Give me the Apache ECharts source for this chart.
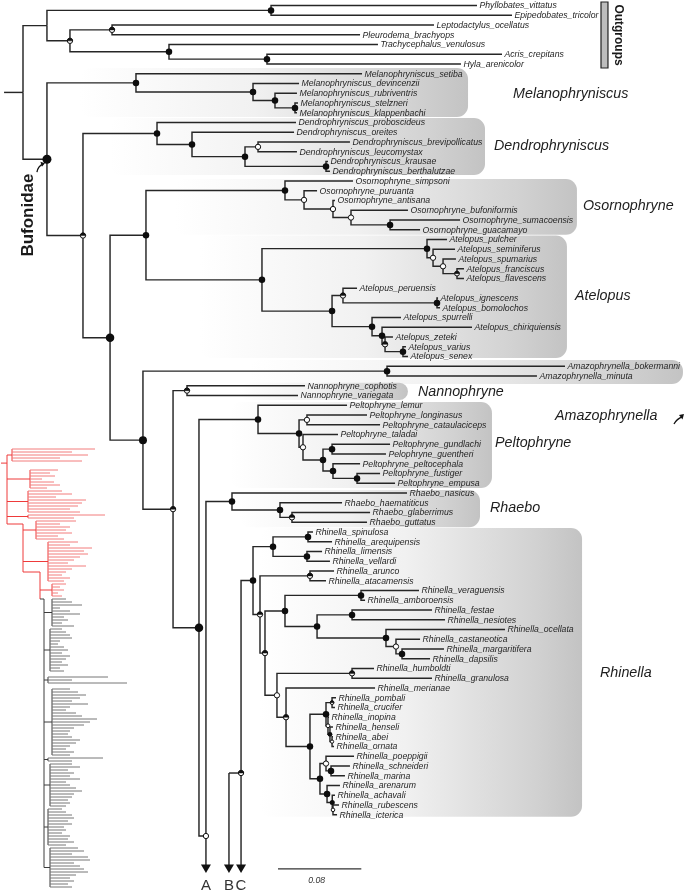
<!DOCTYPE html>
<html><head><meta charset="utf-8">
<script src="https://cdn.jsdelivr.net/npm/echarts/dist/echarts.min.js"></script>
<style>html,body{margin:0;padding:0;background:#fff}#c{width:685px;height:891px}</style>
</head><body><div id="c"></div>
<script>
// ---------------- DATA ----------------
const taxa = ['Phyllobates_vittatus','Epipedobates_tricolor','Leptodactylus_ocellatus','Pleurodema_brachyops','Trachycephalus_venulosus','Acris_crepitans','Hyla_arenicolor',
'Melanophryniscus_setiba','Melanophryniscus_devincenzii','Melanophryniscus_rubriventris','Melanophryniscus_stelzneri','Melanophryniscus_klappenbachi',
'Dendrophryniscus_proboscideus','Dendrophryniscus_oreites','Dendrophryniscus_brevipollicatus','Dendrophryniscus_leucomystax','Dendrophryniscus_krausae','Dendrophryniscus_berthalutzae',
'Osornophryne_simpsoni','Osornophryne_puruanta','Osornophryne_antisana','Osornophryne_bufoniformis','Osornophryne_sumacoensis','Osornophryne_guacamayo',
'Atelopus_pulcher','Atelopus_seminiferus','Atelopus_spumarius','Atelopus_franciscus','Atelopus_flavescens','Atelopus_peruensis','Atelopus_ignescens','Atelopus_bomolochos','Atelopus_spurrelli','Atelopus_chiriquiensis','Atelopus_zeteki','Atelopus_varius','Atelopus_senex',
'Amazophrynella_bokermanni','Amazophrynella_minuta','Nannophryne_cophotis','Nannophryne_variegata',
'Peltophryne_lemur','Peltophryne_longinasus','Peltophryne_cataulaciceps','Peltophryne_taladai','Peltophryne_gundlachi','Pelophryne_guentheri','Peltophryne_peltocephala','Peltophryne_fustiger','Peltophryne_empusa',
'Rhaebo_nasicus','Rhaebo_haematiticus','Rhaebo_glaberrimus','Rhaebo_guttatus',
'Rhinella_spinulosa','Rhinella_arequipensis','Rhinella_limensis','Rhinella_vellardi','Rhinella_arunco','Rhinella_atacamensis','Rhinella_veraguensis','Rhinella_amboroensis','Rhinella_festae','Rhinella_nesiotes','Rhinella_ocellata','Rhinella_castaneotica','Rhinella_margaritifera','Rhinella_dapsilis','Rhinella_humboldti','Rhinella_granulosa','Rhinella_merianae','Rhinella_pombali','Rhinella_crucifer','Rhinella_inopina','Rhinella_henseli','Rhinella_abei','Rhinella_ornata','Rhinella_poeppigii','Rhinella_schneideri','Rhinella_marina','Rhinella_arenarum','Rhinella_achavali','Rhinella_rubescens','Rhinella_icterica'];

// distance from the root (substitutions/site)
const tipDepth = [0.4360,0.4696,0.3947,0.3237,0.3409,0.4600,0.4206,
0.3256,0.2651,0.2631,0.2641,0.2631,
0.2622,0.2603,0.3140,0.2631,0.2929,0.2948,
0.3169,0.2824,0.2996,0.3697,0.4197,0.3813,
0.4072,0.4149,0.4158,0.4235,0.4235,0.3208,0.3986,0.4005,0.3630,0.4312,0.3553,0.3678,0.3697,
0.5205,0.4936,0.2708,0.2641,
0.3112,0.3304,0.3429,0.3025,0.3525,0.3486,0.3237,0.3429,0.3573,
0.3688,0.3064,0.3333,0.3304,
0.2785,0.2968,0.2872,0.2948,0.2987,0.2910,0.3803,0.3285,0.3928,0.4053,0.4629,0.3813,0.4043,0.3909,0.3371,0.3928,0.3381,0.3006,0.2996,0.2939,0.2977,0.2977,0.2987,0.3179,0.3140,0.3092,0.3044,0.2996,0.3035,0.3016];

const nodeIds = ['og1','og2','og3','og4','og5','og',
'me1','me2','me3','me',
'de1','de2','de3','de4','de',
'os1','os2','os3','os4','os',
'at1','at2','at3','at4','at5','at6','at7','at8','at9','at10','at11','at','osat',
'am','na',
'pe1','pe2','pe3','pe4','pe5','pe6','pe7','pe',
'rb1','rb2','rb',
'rh1','rh2','rh3','rh4','rh5','rh6','rh7','rh8','rh9','rh10','rh11','rh12','rh13','rh14','rh15','rh16','rh17','rh18','rh19','rh20','rh21','rh22','rh23','rh24','rh25','rh26','rh27','rh28','rh',
'X206','X199','X173','X143','X110','X83','B','root','CN'];

const nodeKids = [[0,1],[2,3],[5,6],[4,'og3'],['og2','og4'],['og1','og5'],
[10,11],[9,'me1'],[8,'me2'],[7,'me3'],
[14,15],[16,17],['de1','de2'],[13,'de3'],[12,'de4'],
[22,23],[21,'os1'],[20,'os2'],[19,'os3'],[18,'os4'],
[27,28],[26,'at1'],[25,'at2'],[24,'at3'],[30,31],[29,'at5'],[35,36],[34,'at7'],[33,'at8'],[32,'at9'],['at6','at10'],['at4','at11'],['os','at'],
[37,38],[39,40],
[42,43],[45,46],[48,49],[47,'pe3'],['pe2','pe4'],[44,'pe5'],['pe1','pe6'],[41,'pe7'],
[52,53],[51,'rb1'],[50,'rb2'],
[54,55],[56,57],['rh1','rh2'],[58,59],[60,61],[62,63],[66,67],[65,'rh7'],[64,'rh8'],['rh6','rh9'],['rh5','rh10'],[68,69],[71,72],[75,76],[74,'rh14'],[73,'rh15'],['rh13','rh16'],[78,79],[77,'rh18'],[82,83],[81,'rh20'],[80,'rh21'],['rh19','rh22'],['rh17','rh23'],[70,'rh24'],['rh12','rh25'],['rh11','rh26'],['rh4','rh27'],['rh3','rh28'],
['rb'],['pe','X206'],['na','X199'],['am','X173'],['osat','X143'],['de','X110'],['me','X83'],['og','B'],['rh']];

const nodeDepth = [0.2382,0.0855,0.2343,0.1402,0.0451,0.0230,
0.2612,0.2420,0.2209,0.1085,
0.2257,0.2910,0.2132,0.1623,0.1287,
0.3525,0.3150,0.2977,0.2699,0.2516,
0.4168,0.4034,0.3938,0.3880,0.3976,0.3073,0.3649,0.3477,0.3448,0.3352,0.2968,0.2295,0.1181,
0.3496,0.1575,
0.2727,0.2968,0.3208,0.2977,0.2881,0.2689,0.2651,0.2257,
0.2583,0.2468,0.2007,
0.2737,0.2727,0.2401,0.2756,0.3246,0.3160,0.3640,0.3582,0.3486,0.2824,0.2516,0.3160,0.2968,0.2968,0.2948,0.2929,0.2910,0.2958,0.2910,0.2977,0.2970,0.2920,0.2852,0.2756,0.2526,0.2439,0.2324,0.2276,0.2209,
0.1757,0.1690,0.1441,0.1152,0.0836,0.0576,0.0230,0,0.2094];

// node support: F = filled, O = open, H = half, N = none
const nodeSupport = ['F','H','F','F','H','N',
'F','F','F','F',
'O','F','F','F','F',
'F','O','O','O','F',
'H','O','O','F','F','H','F','H','F','F','F','F','F',
'F','H',
'O','F','F','F','F','O','F','F',
'H','F','F',
'F','F','F','H','F','F','F','O','F','F','F','H','H','O','F','O','F','F','O','O','F','F','F','F','H','O','H','H','F',
'O','F','H','F','F','H','F','N','H'];

// nodes whose lineage continues off the figure (rows in tip units)
const cutNodeIds = ['X206','CN'];
const cutNodeRow = [85.18, 78.72];
const rootStubDepth = -0.0182;

// continuation arrows to panels A, B, C
const arrowLabels = ['A','B','C'];
const arrowDepth = [0.1757, 0.1978, 0.2094];
const arrowFromRow = [85.18, 78.72, 78.72];
const arrowTipRow = 88.97;

// named clades (shaded boxes)
const cladeNames = ['Melanophryniscus','Dendrophryniscus','Osornophryne','Atelopus','Amazophrynella','Nannophryne','Peltophryne','Rhaebo','Rhinella'];
const boxLeft  = [0.0547,0.0836,0.1460,0.1700,0.2180,0.2080,0.1990,0.2080,0.2276];
const boxRight = [0.4274,0.4437,0.5320,0.5224,0.6338,0.3697,0.4504,0.4389,0.5369];
const boxTop   = [6.41,11.54,17.80,23.60,36.36,38.70,40.67,49.70,53.60];
const boxBottom= [11.44,17.38,23.50,36.15,38.82,40.46,49.49,53.50,83.20];
const cladeLabelDepth = [0.4707,0.4523,0.5378,0.5301,0.5109,0.3793,0.4533,0.4485,0.5541];
const cladeLabelRow   = [9.08,14.41,20.56,29.80,42.10,39.64,44.87,51.54,68.46];

// scale bar
const scaleValue = 0.08;
const scaleStart = 0.2449;
const scaleRow = 88.56;

// thumbnail of the whole tree (lower left)
const thumbStem  = [12,30,28,28,36,48,52, 52,50,48,52,48,50,48,50];
const thumbRow0  = [3,10,17,25,27,34,48, 53,63,79,83,106,108,123,136];
const thumbRed   = [1,1,1,1,1,1,1, 0,0,0,0,0,0,0,0];
const thumbSpineOf = [0,0,0,0,1,1,2, 3,3,3,3,3,3,3,3];
const thumbTips = [
 [95,72,88,60,82],
 [58,50,55,42,54,60,47],
 [62,72,56,86,82,78,70,80],
 [105,74],
 [76,60,70,66,72,58,64],
 [78,70,92,84,88,80,74,68,86,72,66,62,70,64],
 [66,60,64,58,62],
 [66,72,82,60,70,80,64,68,62,74],
 [62,66,70,72,60,58,64,68,62,70,66,62,68,60,64],
 [108,72,127],
 [70,78,86,80,72,88,70,66,76,82,97,90,84,74,70,68,72,80,76,70,66,74,70],
 [103,72],
 [72,80,68,74,70,80,66,70,76,82,74,72,68,70,66],
 [62,66,72,74,68,72,64,66,62,70,68,74,66],
 [78,84,72,88,90,74,80,84,88,76,70,74,68,72]];
const thumbSpineX = [7,23,40,44];
const thumbSpineTop = [5,28,44,53];
const thumbSpineBottom = [28,44,53,142.5];
const thumbSpineRed = [1,1,1,0];
const thumbRootRow = 7.7, thumbRootX = 1;

// ---------------- LAYOUT (tree geometry from data) ----------------
const idx = {}; nodeIds.forEach((id,i)=>idx[id]=i);
const fixed = {}; cutNodeIds.forEach((id,i)=>fixed[id]=cutNodeRow[i]);
const rowCache = {};
function rowOf(k){
  if (typeof k === 'number') return k;
  if (rowCache[k] != null) return rowCache[k];
  let r;
  if (fixed[k] != null) r = fixed[k];
  else { const kids = nodeKids[idx[k]]; r = (rowOf(kids[0]) + rowOf(kids[kids.length-1]))/2; }
  rowCache[k] = r; return r;
}
function depthOf(k){ return typeof k === 'number' ? tipDepth[k] : nodeDepth[idx[k]]; }

const branchData = [];
nodeIds.forEach((id,i)=>{
  const pd = nodeDepth[i], pr = rowOf(id);
  nodeKids[i].forEach(k=>{ branchData.push([pd, pr, rowOf(k), depthOf(k)]); });
});
branchData.push([rootStubDepth, rowOf('root'), rowOf('root'), 0]);
arrowLabels.forEach((l,i)=>{ branchData.push([arrowDepth[i], arrowFromRow[i], arrowTipRow-0.82, arrowDepth[i]]); });
branchData.push([arrowDepth[1], arrowFromRow[1], arrowFromRow[1], arrowDepth[2]]);

const supCode = {F:1,O:2,H:3};
const bigNodes = {B:9, X110:8.5, X143:8, X199:8.5};
const tinyNodes = {rh13:4.8, rh14:4.3, rh15:4.8, rh16:4.8, rh20:4.6, rh21:5, at1:5.8, rh12:6.2};
const markerData = [];
nodeIds.forEach((id,i)=>{
  const s = nodeSupport[i]; if (s === 'N') return;
  const size = bigNodes[id] || tinyNodes[id] || (s === 'F' ? 6.5 : 6.3);
  markerData.push([nodeDepth[i], rowOf(id), supCode[s], size]);
});

const thumbSegs = [];
thumbSpineX.forEach((x,i)=>{
  const c = thumbSpineRed[i] ? 1 : 3;
  thumbSegs.push([x, thumbSpineTop[i], x, thumbSpineBottom[i], c]);
  if (i > 0) thumbSegs.push([thumbSpineX[i-1], thumbSpineTop[i], x, thumbSpineTop[i], c]);
});
thumbSegs.push([thumbRootX, thumbRootRow, thumbSpineX[0], thumbRootRow, 1]);
thumbStem.forEach((sx,i)=>{
  const tips = thumbTips[i], r0 = thumbRow0[i], r1 = r0 + tips.length - 1, mid = (r0+r1)/2;
  const cs = thumbRed[i] ? 1 : 3, ct = thumbRed[i] ? 2 : 4;
  thumbSegs.push([thumbSpineX[thumbSpineOf[i]], mid, sx, mid, cs]);
  thumbSegs.push([sx, r0, sx, r1, cs]);
  tips.forEach((t,j)=>thumbSegs.push([sx, r0+j, t, r0+j, ct]));
});
const thumbColors = {1:'#ee3a3a', 2:'#f27c7c', 3:'#3c3c3c', 4:'#777777'};

// ---------------- CHART ----------------
const FONT = '"Liberation Sans", Arial, Helvetica, sans-serif';
const INK = '#262626';
const chart = echarts.init(document.getElementById('c'));

function textEl(x, y, text, font, fill, align, rotation){
  const el = {type:'text', x:x, y:y, style:{text:text, font:font, fill:fill||INK,
    align:align||'left', verticalAlign:'middle', textAlign:align||'left', textVerticalAlign:'middle'}};
  if (rotation) el.rotation = rotation;
  return el;
}
function halfDisk(cx, cy, r){
  const pts = [];
  for (let k = 0; k <= 16; k++){ const a = Math.PI + Math.PI*k/16; pts.push([cx + r*Math.cos(a), cy + r*Math.sin(a)]); }
  return pts;
}

const option = {
  animation:false,
  backgroundColor:'#fff',
  grid:[{left:0, top:0, width:685, height:891},{left:0, top:440, width:130, height:451}],
  xAxis:[{gridIndex:0,type:'value',min:-0.02209,max:0.63577,show:false},
         {gridIndex:1,type:'value',min:0,max:130,show:false}],
  yAxis:[{gridIndex:0,type:'value',inverse:true,min:-0.5641,max:90.82,show:false},
         {gridIndex:1,type:'value',inverse:true,min:0,max:150.33,show:false}],
  series:[
    {type:'custom', xAxisIndex:0, yAxisIndex:0, z:1, silent:true, clip:false,
     data: cladeNames.map((n,i)=>[boxLeft[i], boxTop[i], boxRight[i], boxBottom[i]]),
     renderItem:(p, api)=>{
       const a = api.coord([api.value(0), api.value(1)]), b = api.coord([api.value(2), api.value(3)]);
       return {type:'rect', shape:{x:a[0], y:a[1], width:b[0]-a[0], height:b[1]-a[1], r:11},
         style:{fill:{type:'linear', x:0, y:0, x2:1, y2:0, colorStops:[
           {offset:0, color:'rgba(255,255,255,1)'},{offset:0.45, color:'#f1f1f1'},
           {offset:0.85, color:'#d2d2d2'},{offset:1, color:'#c3c3c3'}]}}};
     }},
    {type:'custom', xAxisIndex:0, yAxisIndex:0, z:6, silent:true, clip:false,
     data: cladeNames.map((n,i)=>[cladeLabelDepth[i], cladeLabelRow[i]]),
     renderItem:(p, api)=>{
       const a = api.coord([api.value(0), api.value(1)]);
       return textEl(a[0], a[1], cladeNames[p.dataIndex], 'italic 14.3px '+FONT, '#1e1e1e');
     }},
    {type:'custom', xAxisIndex:0, yAxisIndex:0, z:3, silent:true, clip:false,
     data: branchData,
     renderItem:(p, api)=>{
       const a = api.coord([api.value(0), api.value(1)]);
       const b = api.coord([api.value(0), api.value(2)]);
       const c = api.coord([api.value(3), api.value(2)]);
       return {type:'polyline', shape:{points:[a,b,c]}, style:{stroke:'#262626', lineWidth:1.45, fill:'none'}};
     }},
    {type:'custom', xAxisIndex:0, yAxisIndex:0, z:4, silent:true, clip:false,
     data: markerData,
     renderItem:(p, api)=>{
       const a = api.coord([api.value(0), api.value(1)]);
       const t = api.value(2), r = api.value(3)/2;
       if (t === 1) return {type:'circle', shape:{cx:a[0], cy:a[1], r:r}, style:{fill:'#0d0d0d'}};
       if (t === 2) return {type:'circle', shape:{cx:a[0], cy:a[1], r:r-0.5}, style:{fill:'#fff', stroke:'#111', lineWidth:1}};
       return {type:'group', children:[
         {type:'circle', shape:{cx:a[0], cy:a[1], r:r-0.5}, style:{fill:'#fff', stroke:'#111', lineWidth:1}},
         {type:'polygon', shape:{points:halfDisk(a[0], a[1], r-0.5)}, style:{fill:'#111', stroke:'#111', lineWidth:0.5}}]};
     }},
    {type:'custom', xAxisIndex:0, yAxisIndex:0, z:5, silent:true, clip:false,
     data: taxa.map((t,i)=>[tipDepth[i], i]),
     renderItem:(p, api)=>{
       const a = api.coord([api.value(0), api.value(1)]);
       return textEl(a[0]+2.5, a[1]+0.5, taxa[p.dataIndex], 'italic 8.7px '+FONT);
     }},
    {type:'custom', xAxisIndex:0, yAxisIndex:0, z:5, silent:true, clip:false,
     data: arrowLabels.map((l,i)=>[arrowDepth[i], arrowTipRow]),
     renderItem:(p, api)=>{
       const a = api.coord([api.value(0), api.value(1)]);
       return {type:'group', children:[
         {type:'polygon', shape:{points:[[a[0]-5, a[1]-8.5], [a[0]+5, a[1]-8.5], [a[0], a[1]]]}, style:{fill:'#111'}},
         textEl(a[0], a[1]+13, arrowLabels[p.dataIndex], '15px '+FONT, '#333', 'center')]};
     }},
    {type:'custom', xAxisIndex:0, yAxisIndex:0, z:5, silent:true, clip:false,
     data:[[scaleStart, scaleRow, scaleStart+scaleValue]],
     renderItem:(p, api)=>{
       const a = api.coord([api.value(0), api.value(1)]), b = api.coord([api.value(2), api.value(1)]);
       return {type:'group', children:[
         {type:'line', shape:{x1:a[0], y1:a[1], x2:b[0], y2:b[1]}, style:{stroke:'#333', lineWidth:1.2}},
         textEl((a[0]+b[0])/2-3, a[1]+12, String(scaleValue), 'italic 8.7px '+FONT, '#333', 'center')]};
     }},
    {type:'custom', xAxisIndex:0, yAxisIndex:0, z:6, silent:true, clip:false,
     data:[[depthOf('B'), rowOf('B')]],
     renderItem:(p, api)=>{
       const n = api.coord([api.value(0), api.value(1)]);
       const lab = api.coord([0.0048, 21.49]);
       const am = api.coord([cladeLabelDepth[4], cladeLabelRow[4]]);
       const og0 = api.coord([0.5551, -0.36]), og1 = api.coord([0.5618, 6.41]);
       const ogl = api.coord([0.5714, 3.03]);
       return {type:'group', children:[
         textEl(lab[0], lab[1], 'Bufonidae', 'bold 17px '+FONT, '#1a1a1a', 'center', Math.PI/2),
         {type:'bezierCurve', shape:{x1:n[0]-10, y1:n[1]+13, cpx1:n[0]-9, cpy1:n[1]+7, x2:n[0]-4, y2:n[1]+5}, style:{stroke:'#111', lineWidth:1.3, fill:'none'}},
         {type:'polygon', shape:{points:[[n[0]-2, n[1]+4], [n[0]-6.5, n[1]+2.5], [n[0]-5, n[1]+7.5]]}, style:{fill:'#111'}},
         {type:'bezierCurve', shape:{x1:am[0]+119, y1:am[1]+8, cpx1:am[0]+122, cpy1:am[1]+3, x2:am[0]+127, y2:am[1]+1}, style:{stroke:'#111', lineWidth:1.3, fill:'none'}},
         {type:'polygon', shape:{points:[[am[0]+129, am[1]-2], [am[0]+124, am[1]-1], [am[0]+127.5, am[1]+3.5]]}, style:{fill:'#111'}},
         {type:'rect', shape:{x:og0[0], y:og0[1], width:og1[0]-og0[0], height:og1[1]-og0[1]}, style:{fill:'#bdbdbd', stroke:'#222', lineWidth:1.2}},
         textEl(ogl[0], ogl[1], 'Outgroups', 'bold 12px '+FONT, '#1a1a1a', 'center', -Math.PI/2)
       ]};
     }},
    {type:'custom', xAxisIndex:1, yAxisIndex:1, z:2, silent:true, clip:false,
     data: thumbSegs,
     renderItem:(p, api)=>{
       const a = api.coord([api.value(0), api.value(1)]), b = api.coord([api.value(2), api.value(3)]);
       return {type:'line', shape:{x1:a[0], y1:a[1], x2:b[0], y2:b[1]}, style:{stroke:thumbColors[api.value(4)], lineWidth:1}};
     }}
  ]
};
chart.setOption(option);
</script></body></html>
